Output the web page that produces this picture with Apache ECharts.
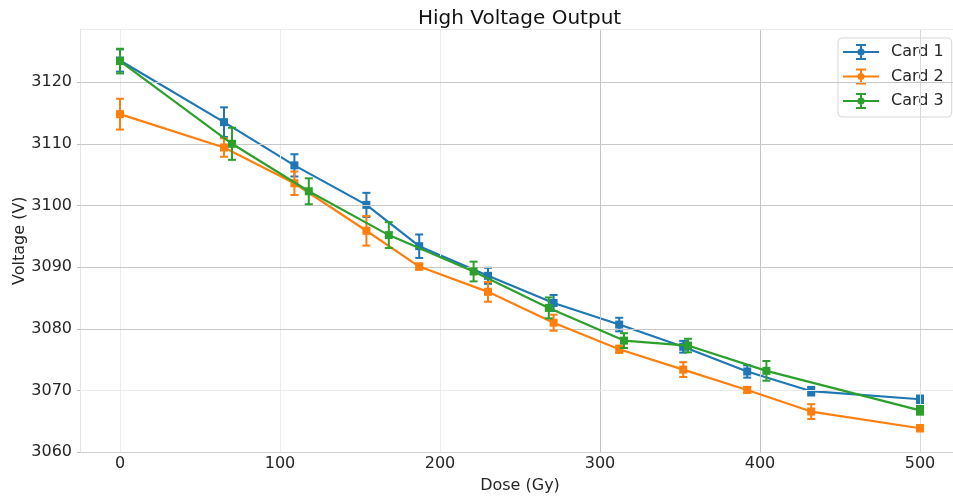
<!DOCTYPE html>
<html>
<head>
<meta charset="utf-8">
<script src="https://cdn.jsdelivr.net/npm/echarts@6/dist/echarts.min.js"></script>
<style>
  html, body { margin: 0; padding: 0; background: #ffffff; overflow: hidden; }
  #chart { width: 953px; height: 496px; }
</style>
</head>
<body>
<div id="chart"></div>
<script>
// Measured high-voltage output of three cards versus accumulated dose.
const cardNames = ['Card 1', 'Card 2', 'Card 3'];

const dose1 = [0, 65, 109, 154, 187, 230, 271, 312, 352, 392, 432, 500];
const volt1 = [3123.5, 3113.5, 3106.5, 3100.1, 3093.4, 3088.6, 3084.2, 3080.7, 3077.1, 3073.1, 3069.9, 3068.6];
const err1  = [1.8, 2.4, 1.8, 1.95, 1.9, 1.3, 1.3, 1.1, 0.95, 1.0, 0.7, 0.6];

const dose2 = [0, 65, 109, 154, 187, 230, 271, 312, 352, 392, 432, 500];
const volt2 = [3114.8, 3109.4, 3103.6, 3095.9, 3090.1, 3086.0, 3081.0, 3076.7, 3073.4, 3070.1, 3066.6, 3063.9];
const err2  = [2.5, 1.5, 1.9, 2.4, 0.5, 1.6, 1.3, 0.6, 1.2, 0.5, 1.2, 0.5];

const dose3 = [0, 70, 118, 168, 221, 268, 315, 355, 404, 500];
const volt3 = [3123.4, 3110.0, 3102.3, 3095.2, 3089.3, 3083.4, 3078.1, 3077.3, 3073.2, 3066.8];
const err3  = [2.0, 2.6, 2.1, 2.1, 1.6, 1.7, 1.2, 1.1, 1.6, 0.7];

const xTicks = [0, 100, 200, 300, 400, 500];
const yTicks = [3060, 3070, 3080, 3090, 3100, 3110, 3120];

const X_MIN = -25, X_MAX = 525;
const Y_MIN = 3060, Y_MAX = 3128.6;

const colors = ['#1f77b4', '#ff7f0e', '#2ca02c'];
const FONT = 'DejaVu Sans';
const TEXT = '#262626';

const cards = [
  { dose: dose1, volt: volt1, err: err1 },
  { dose: dose2, volt: volt2, err: err2 },
  { dose: dose3, volt: volt3, err: err3 }
];

// Legend glyph: horizontal line, error bar with caps and a round marker.
const legendGlyph = 'path://M0 7H36V9H0Z M17 0H19V16H17Z M13 0H23V2H13Z M13 14H23V16H13Z M14.4 8A3.6 3.6 0 1 1 21.6 8A3.6 3.6 0 1 1 14.4 8Z';

function renderErrorBar(params, api) {
  const x = api.value(0);
  const lo = api.coord([x, api.value(1)]);
  const hi = api.coord([x, api.value(2)]);
  const cap = 4;
  const style = { stroke: api.visual('color'), lineWidth: 2, fill: null };
  return {
    type: 'group',
    children: [
      { type: 'line', shape: { x1: lo[0], y1: lo[1], x2: hi[0], y2: hi[1] }, style: style },
      { type: 'line', shape: { x1: lo[0] - cap, y1: lo[1], x2: lo[0] + cap, y2: lo[1] }, style: style },
      { type: 'line', shape: { x1: hi[0] - cap, y1: hi[1], x2: hi[0] + cap, y2: hi[1] }, style: style }
    ]
  };
}

// Grid lines, each with its own grey.
const vShade = ['#ececec', '#ececec', '#ececec', '#c4c4c4', '#c4c4c4', '#d9d9d9'];
const hShade = ['#cdcdcd', '#ebebeb', '#c8c8c8', '#c8c8c8', '#c8c8c8', '#c8c8c8', '#c8c8c8'];
const gridLines = [];
xTicks.forEach((v, i) => gridLines.push({ xAxis: v, lineStyle: { color: vShade[i] } }));
yTicks.forEach((v, i) => { if (i > 0) gridLines.push({ yAxis: v, lineStyle: { color: hShade[i] } }); });
gridLines.push({ yAxis: Y_MAX, lineStyle: { color: '#ebebeb' } });

const series = [];
// error-bar series first so the legend picks their glyph
cards.forEach((c, i) => {
  series.push({
    name: cardNames[i],
    type: 'custom',
    renderItem: renderErrorBar,
    itemStyle: { color: colors[i] },
    encode: { x: 0, y: [1, 2] },
    data: c.dose.map((d, k) => [d, c.volt[k] - c.err[k], c.volt[k] + c.err[k]]),
    z: 4 + i * 2,
    silent: true,
    animation: false
  });
});
cards.forEach((c, i) => {
  series.push({
    name: cardNames[i],
    type: 'line',
    data: c.dose.map((d, k) => [d, c.volt[k]]),
    symbol: 'rect',
    symbolSize: 8,
    showSymbol: true,
    showAllSymbol: true,
    itemStyle: { color: colors[i] },
    lineStyle: { color: colors[i], width: 2.2 },
    emphasis: { disabled: true },
    z: 3 + i * 2,
    silent: true,
    animation: false
  });
});
series.push({
  name: 'grid',
  type: 'line',
  data: [],
  z: 1,
  silent: true,
  markLine: {
    silent: true,
    animation: false,
    symbol: ['none', 'none'],
    label: { show: false },
    lineStyle: { type: 'solid', width: 1 },
    emphasis: { disabled: true },
    data: gridLines
  }
});

const chart = echarts.init(document.getElementById('chart'), null, { renderer: 'canvas' });
chart.setOption({
  animation: false,
  backgroundColor: '#ffffff',
  textStyle: { fontFamily: FONT },
  title: {
    text: 'High Voltage Output',
    left: 418,
    top: 9,
    padding: 0,
    textStyle: { fontFamily: FONT, fontSize: 20, fontWeight: 'normal', color: '#111' }
  },
  legend: {
    orient: 'vertical',
    left: 838,
    top: 38,
    itemWidth: 36,
    itemHeight: 16,
    itemGap: 8.5,
    padding: [6, 8, 8, 5],
    backgroundColor: 'rgba(255,255,255,0.8)',
    borderColor: '#d6d6d6',
    borderWidth: 1,
    borderRadius: 4,
    selectedMode: false,
    textStyle: { fontFamily: FONT, fontSize: 16, color: TEXT, padding: [0, 0, 0, 7] },
    data: cardNames.map(n => ({ name: n, icon: legendGlyph }))
  },
  grid: { left: 80, top: 29, width: 880, height: 423.3, containLabel: false, outerBoundsMode: 'none' },
  xAxis: {
    type: 'value',
    min: X_MIN,
    max: X_MAX,
    name: 'Dose (Gy)',
    nameLocation: 'middle',
    nameGap: 26,
    nameMoveOverlap: false,
    nameTextStyle: { fontFamily: FONT, fontSize: 16, color: TEXT },
    axisLine: { show: true, onZero: false, lineStyle: { color: '#cfcfcf', width: 1 } },
    axisTick: { show: false },
    splitLine: { show: false },
    axisLabel: { customValues: xTicks, formatter: v => String(v), fontFamily: FONT, fontSize: 16, color: TEXT, margin: 4 }
  },
  yAxis: {
    type: 'value',
    min: Y_MIN,
    max: Y_MAX,
    name: 'Voltage (V)',
    nameLocation: 'middle',
    nameGap: 52,
    nameMoveOverlap: false,
    nameTextStyle: { fontFamily: FONT, fontSize: 16, color: TEXT },
    axisLine: { show: true, onZero: false, lineStyle: { color: '#e4e4e4', width: 1 } },
    axisTick: { show: true, customValues: yTicks, length: 3, lineStyle: { color: '#bdbdbd' } },
    splitLine: { show: false },
    axisLabel: { customValues: yTicks, formatter: v => String(v), fontFamily: FONT, fontSize: 16, color: TEXT, margin: 8 }
  },
  series: series
});
</script>
</body>
</html>
